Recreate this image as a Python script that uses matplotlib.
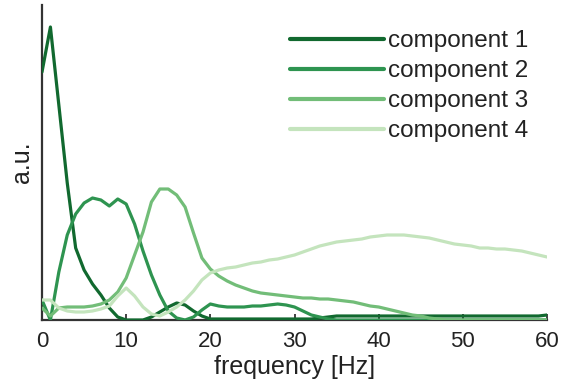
import numpy as np
import matplotlib
matplotlib.use("Agg")
import matplotlib.pyplot as plt

plt.rcParams['font.family'] = ['Liberation Sans', 'DejaVu Sans']

freq = list(range(0, 61))

comp1 = [248, 293, 215, 137, 72, 50, 36, 25, 12, 3, 0, 0, 0, 3, 8, 13, 17, 15, 9, 4,
         1, 1, 1, 1, 1, 1, 1, 1, 1, 1, 1, 1, 1, 2, 3, 4, 4, 4, 4, 4,
         4, 4, 4, 4, 4, 4, 4, 4, 4, 4, 4, 4, 4, 4, 4, 4, 4, 4, 4, 4, 5]
comp2 = [20, 0, 48, 85, 106, 117, 122, 120, 114, 121, 116, 96, 69, 45, 25, 9, 2, 0, 3, 10,
         16, 14, 13, 13, 13, 14, 14, 15, 16, 15, 13, 9, 5, 3, 1, 0, 0, 0, 0, 0,
         0, 0, 0, 0, 0, 0, 0, 0, 0, 0, 0, 0, 0, 0, 0, 0, 0, 0, 0, 0, 0]
comp3 = [12, 4, 12, 13, 13, 13, 14, 16, 20, 28, 42, 65, 88, 118, 131, 131, 125, 113, 87, 62,
         51, 44, 39, 35, 32, 29, 27, 26, 25, 24, 23, 22, 22, 21, 21, 20, 19, 18, 16, 14,
         13, 11, 9, 7, 5, 4, 2, 1, 0, 0, 0, 0, 0, 0, 0, 0, 0, 0, 0, 0, 0]
comp4 = [20, 20, 12, 9, 8, 8, 9, 11, 14, 24, 32, 24, 13, 6, 4, 8, 13, 20, 29, 40,
         47, 50, 52, 53, 55, 57, 58, 60, 61, 63, 65, 68, 71, 74, 76, 78, 79, 80, 81, 83,
         84, 85, 85, 85, 84, 83, 82, 80, 78, 76, 75, 74, 72, 72, 71, 71, 70, 69, 67, 65, 63]

labels = ['component 1', 'component 2', 'component 3', 'component 4']
xticks = [0, 10, 20, 30, 40, 50, 60]

colors = ['#11692f', '#2e9450', '#72bd78', '#c4e4bd']

fig = plt.figure(figsize=(5.61, 3.86), dpi=100)
ax = fig.add_axes([42/561, 1-320/386, (547-42)/561, (320-5)/386])

for vals, c, lab in zip([comp1, comp2, comp3, comp4], colors, labels):
    ax.plot(freq, np.array(vals) / 100.0, color=c, lw=2.3, label=lab, solid_capstyle='round')

ax.set_xlim(0, 60)
ax.set_ylim(0, 3.15)
ax.set_xticks(xticks)
ax.set_yticks([])
ax.tick_params(axis='x', direction='in', length=4, width=1.3, color='#333333',
               labelsize=16, pad=8, labelcolor='#222222')
for s in ['top', 'right']:
    ax.spines[s].set_visible(False)
for s in ['left', 'bottom']:
    ax.spines[s].set_linewidth(1.6)
    ax.spines[s].set_color('#333333')
    ax.spines[s].set_zorder(0)

ax.set_xlabel('frequency [Hz]', fontsize=18, color='#222222', labelpad=2)
ax.set_ylabel('a.u.', fontsize=18, color='#222222', labelpad=6)

leg = ax.legend(loc='upper left', bbox_to_anchor=(290/561, 1-30/386),
                bbox_transform=fig.transFigure, frameon=False, fontsize=17.5,
                handlelength=3.85, handletextpad=0.2, labelspacing=0.33,
                borderpad=0, borderaxespad=0)
for t in leg.get_texts():
    t.set_color('#222222')
for l in leg.get_lines():
    l.set_linewidth(3)

fig.savefig('out.png', dpi=100)
